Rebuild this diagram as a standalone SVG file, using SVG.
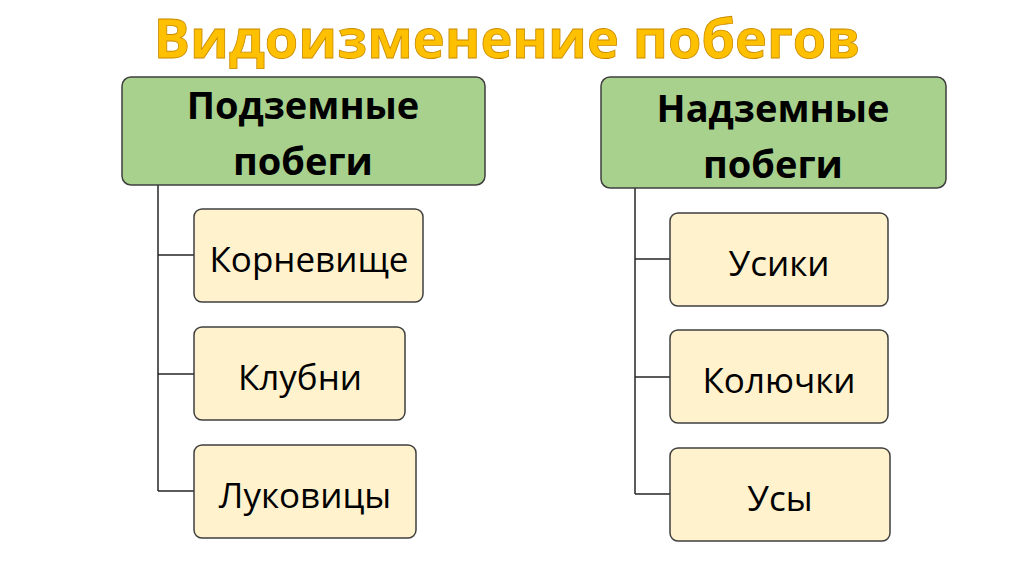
<svg xmlns="http://www.w3.org/2000/svg" width="1024" height="574" viewBox="0 0 1024 574">
<style>
.title{font-family:"Open Sans","DejaVu Sans",sans-serif;font-weight:bold;font-size:54px;fill:#ffc000;stroke:#c98a00;stroke-width:0.8;text-anchor:middle}
.head rect{fill:#a9d18e;stroke:#3f3f3f;stroke-width:1.5}
.head text{font-family:"Open Sans","DejaVu Sans",sans-serif;font-weight:bold;font-size:38px;fill:#000;text-anchor:middle}
.child rect{fill:#fff2cc;stroke:#3f3f3f;stroke-width:1.5}
.child text{font-family:"Open Sans","DejaVu Sans",sans-serif;font-size:35px;fill:#000;text-anchor:middle}
.conn path{fill:none;stroke:#262626;stroke-width:1.5}
</style>
<rect width="1024" height="574" fill="#fff"/>
<text class="title" x="507" y="58">Видоизменение побегов</text>
<g class="conn" id="connectors">
<path d="M158 185 V491 M158 255 H194 M158 374 H194 M158 491 H194"/>
<path d="M635 188 V494 M635 259 H670 M635 377 H670 M635 494 H670"/>
</g>
<g class="head" id="underground"><rect x="122" y="77" width="363" height="108" rx="9"/><text x="303" y="119">Подземные</text><text x="303" y="175">побеги</text></g>
<g class="head" id="aboveground"><rect x="601" y="77" width="345" height="111" rx="9"/><text x="773" y="122">Надземные</text><text x="773" y="178">побеги</text></g>
<g class="child" id="rhizome"><rect x="194" y="209" width="229" height="93" rx="8"/><text x="309" y="272">Корневище</text></g>
<g class="child" id="tubers"><rect x="194" y="327" width="211" height="93" rx="8"/><text x="300" y="390">Клубни</text></g>
<g class="child" id="bulbs"><rect x="194" y="445" width="222" height="93" rx="8"/><text x="305" y="508">Луковицы</text></g>
<g class="child" id="tendrils"><rect x="670" y="213" width="218" height="93" rx="8"/><text x="779" y="276">Усики</text></g>
<g class="child" id="thorns"><rect x="670" y="330" width="218" height="93" rx="8"/><text x="779" y="393">Колючки</text></g>
<g class="child" id="runners"><rect x="670" y="448" width="220" height="93" rx="8"/><text x="780" y="511">Усы</text></g>
</svg>
